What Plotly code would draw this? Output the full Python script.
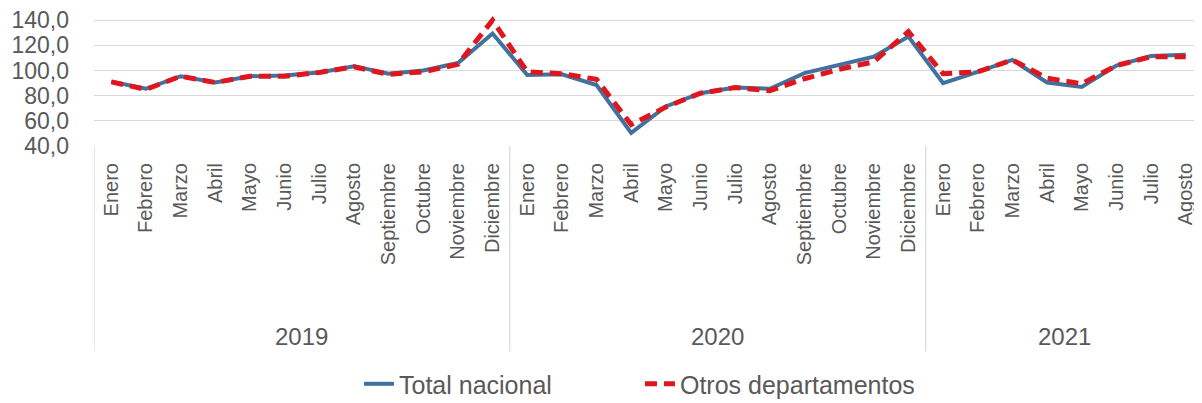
import plotly.graph_objects as go

years = ["2019", "2020", "2021"]
months_per_year = [12, 12, 8]
months_all = ["Enero", "Febrero", "Marzo", "Abril", "Mayo", "Junio", "Julio",
              "Agosto", "Septiembre", "Octubre", "Noviembre", "Diciembre"]
months = months_all + months_all + months_all[:8]

total_nacional = [91.2, 85.5, 95.5, 90.5, 95.5, 96.0, 98.5, 103.5, 97.5, 100.0, 106.0, 129.5,
                  96.5, 97.0, 88.5, 50.5, 71.5, 82.0, 86.5, 85.5, 98.0, 104.5, 111.0, 127.0,
                  90.0, 99.0, 108.5, 90.5, 87.0, 104.0, 111.5, 112.5]
otros_departamentos = [91.0, 85.0, 95.5, 90.5, 95.5, 95.5, 98.5, 103.0, 97.0, 99.0, 105.0, 140.0,
                       99.0, 97.5, 93.0, 57.0, 71.0, 82.0, 86.5, 84.0, 93.5, 101.0, 107.0, 131.0,
                       97.5, 99.0, 108.5, 94.0, 89.5, 104.0, 111.0, 111.0]

y_tickvals = [40, 60, 80, 100, 120, 140]
y_ticktext = ["40,0", "60,0", "80,0", "100,0", "120,0", "140,0"]

FONT = "Liberation Sans, Arial, sans-serif"
GRAY = "#595959"
DIV = "#d0d0d0"

PAGE_OFF = 8  # default body margin of the html page
W, H = 1195, 395
M_L, M_R, M_T, M_B = 86, 0, 5.7, 257
plot_h = H - M_T - M_B
Y_MAX = 145


def px_to_paper(page_y):
    # pixel row in the screenshot -> paper y coordinate
    fy = page_y - PAGE_OFF
    return (H - M_B - fy) / plot_h


xpos = list(range(len(months)))

fig = go.Figure()
fig.add_trace(go.Scatter(
    x=xpos, y=total_nacional, mode="lines", name="Total nacional",
    line=dict(color="#41729F", width=4)))
fig.add_trace(go.Scatter(
    x=xpos, y=otros_departamentos, mode="lines", name="Otros departamentos",
    line=dict(color="#E0161E", width=5, dash="12px,7px")))

# year group labels and divider lines
start = 0
bounds = [-0.5]
for yr, n in zip(years, months_per_year):
    center = start + (n - 1) / 2
    fig.add_annotation(x=center, xref="x", y=px_to_paper(337), yref="paper",
                       text=yr, showarrow=False, yanchor="middle",
                       font=dict(size=24, color=GRAY, family=FONT))
    start += n
    bounds.append(start - 0.5)
for b in bounds:
    fig.add_shape(type="line", xref="x", yref="paper", x0=b, x1=b,
                  y0=0, y1=px_to_paper(352), line=dict(color=DIV, width=1))

fig.update_layout(
    width=W, height=H,
    margin=dict(l=M_L, r=M_R, t=M_T, b=M_B, autoexpand=False),
    paper_bgcolor="white", plot_bgcolor="white",
    font=dict(family=FONT, color=GRAY, size=20),
    showlegend=True,
    legend=dict(orientation="h", xref="container", yref="container",
                x=0.2937, xanchor="left", y=0.048, yanchor="middle",
                entrywidth=236,
                font=dict(size=25, color=GRAY, family=FONT)),
    xaxis=dict(range=[-0.5, len(months) - 0.5], tickvals=xpos, ticktext=months,
               tickangle=-90, showgrid=False, showline=False, zeroline=False,
               ticks="", ticklabelstandoff=12, automargin=False,
               ticklabeloverflow="allow",
               tickfont=dict(size=20, color=GRAY, family=FONT)),
    yaxis=dict(range=[40, Y_MAX], tickvals=y_tickvals, ticktext=y_ticktext,
               showgrid=True, gridcolor="#d9d9d9", gridwidth=1, zeroline=False,
               showline=False, ticks="", ticklabelstandoff=24, automargin=False,
               ticklabeloverflow="allow",
               tickfont=dict(size=23, color=GRAY, family=FONT)),
)

fig.write_html("out.html")
